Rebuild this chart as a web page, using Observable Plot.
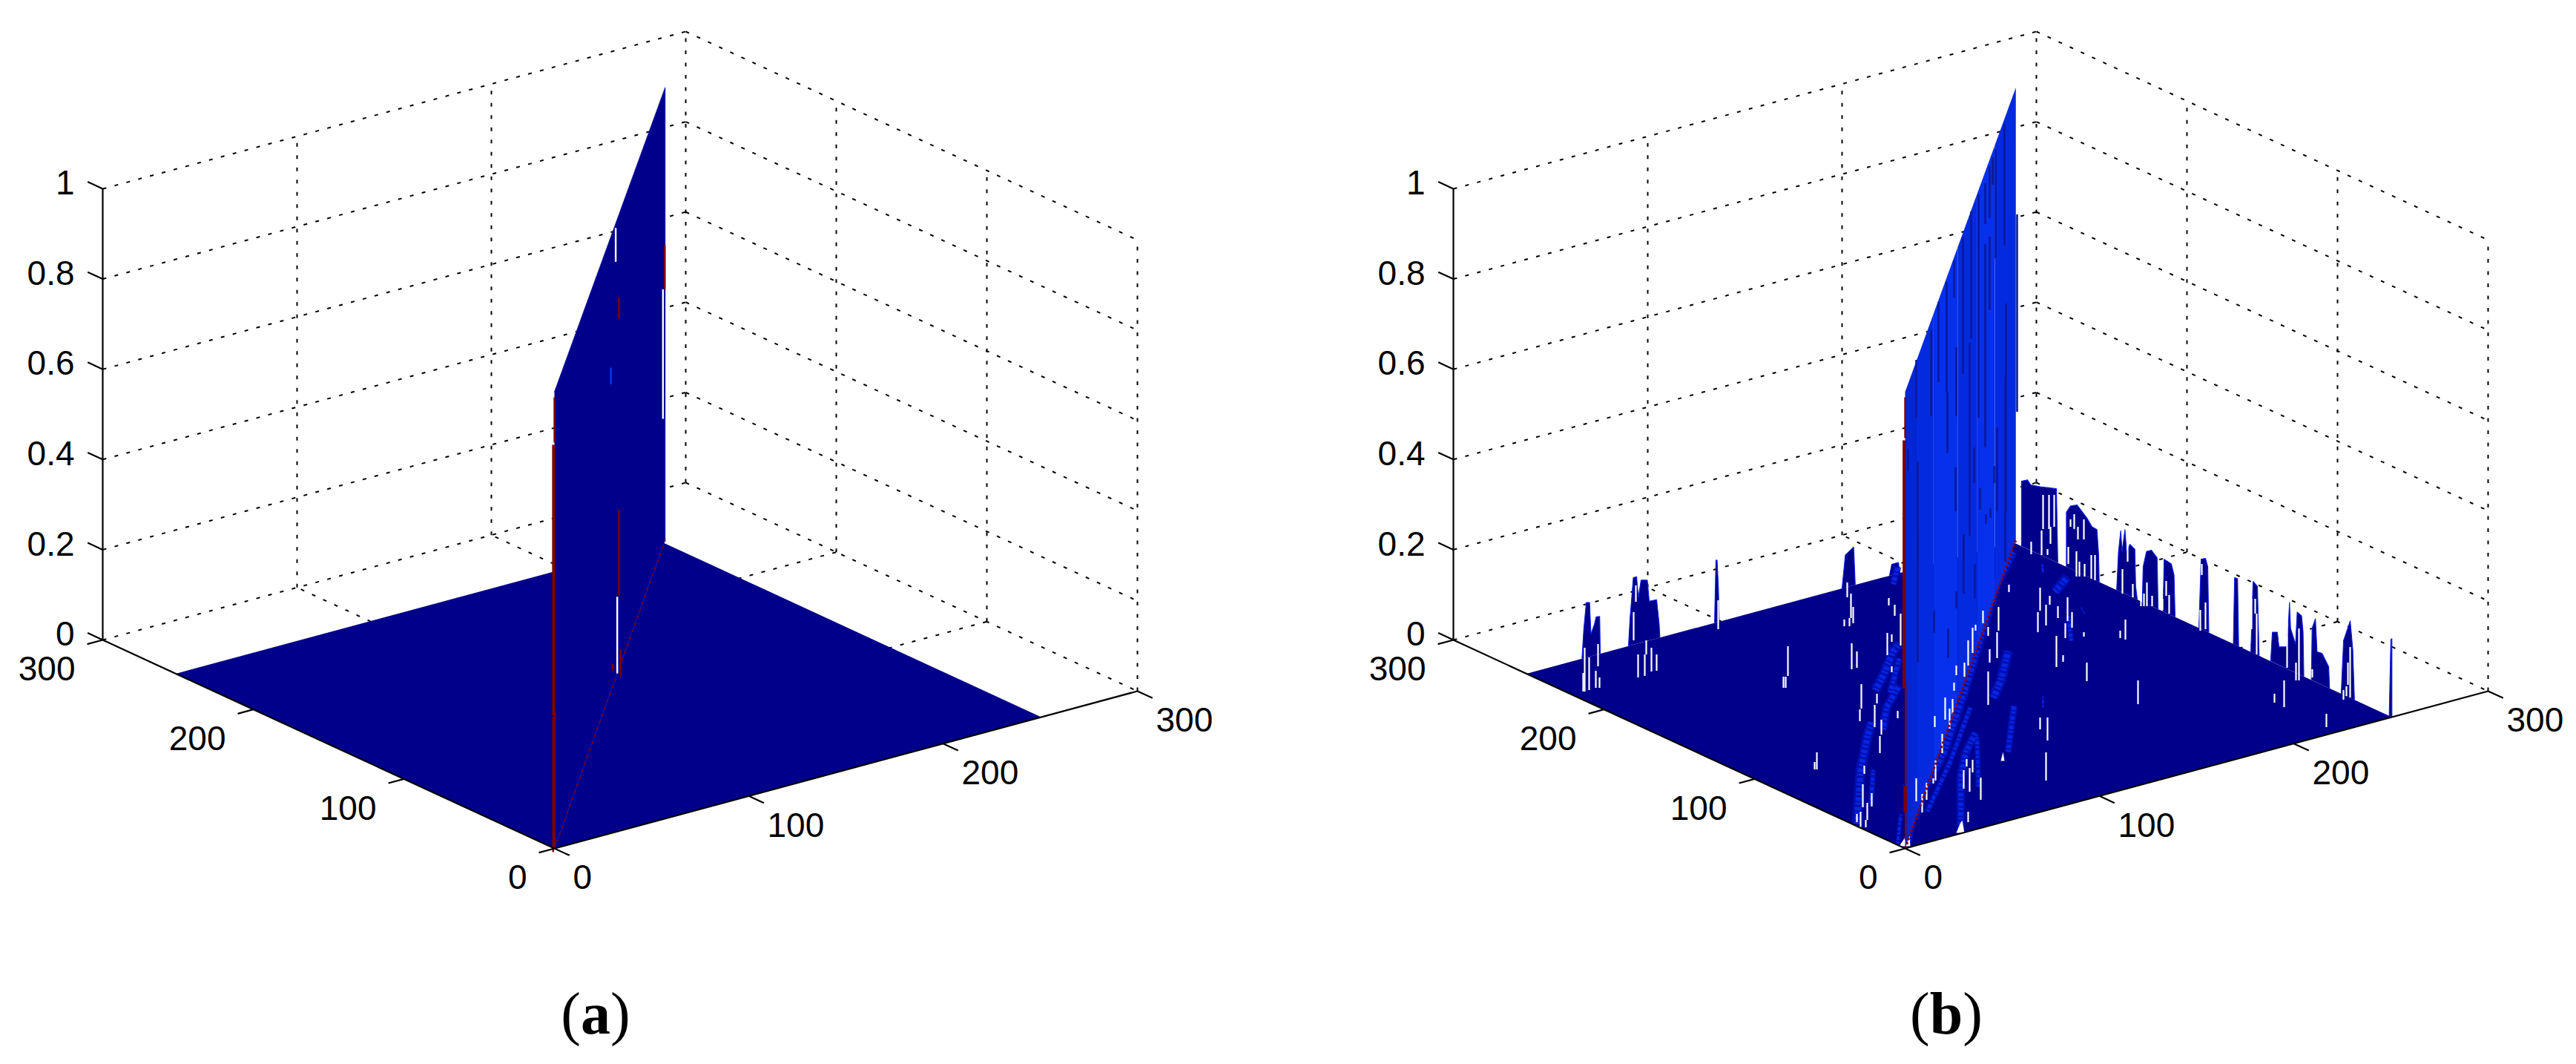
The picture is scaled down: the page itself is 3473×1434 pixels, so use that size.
<!DOCTYPE html>
<html>
<head>
<meta charset="utf-8">
<script src="https://cdn.jsdelivr.net/npm/d3@7"></script>
<script src="https://cdn.jsdelivr.net/npm/@observablehq/plot@0.6"></script>
<style>
html,body{margin:0;padding:0;background:#fff;width:3473px;height:1434px;overflow:hidden}
#panels{display:flex;width:3473px;height:1300px}
#panels svg{display:block;flex:none;max-width:none}
#caps{position:relative;height:134px;width:3473px;font-family:"Liberation Serif",serif;font-size:80px;color:#000}
#caps span{position:absolute;top:20px;line-height:92px;transform:translateX(-50%)}
#caps b{font-weight:700}
</style>
</head>
<body>
<div id="panels"></div>
<div id="caps"></div>
<script>
// ---------- axis values ----------
const planeTicks = [0, 100, 200, 300];
const planeGrid = [100, 200];
const zTicks = [0, 0.2, 0.4, 0.6, 0.8, 1];
const zTickLabels = ["0", "0.2", "0.4", "0.6", "0.8", "1"];
const captions = ["a", "b"];

// ---------- surface extent ----------
const surfaceX = 250.5, surfaceY = 251.5, ridgeEnd = 253;
const ridgeTopNear = 1.012, ridgeTopFar = 1.003;

// ---------- (a) marks on the ridge wall: [t along diagonal, z from, z to] ----------
const wallRedThickA = [[-2, 0.30, 0.90]];
const wallRedThinA = [[0, 0.90, 1.0], [-3, 0, 0.30], [1, 0, 0.30], [252, 0.559, 0.656], [147.5, 0.776, 0.823],
  [147.5, 0.162, 0.352], [151, -0.028, 0.033], [133, 0.035, 0.05]];
const wallWhiteA = [[140, 0.922, 0.997], [248, 0.282, 0.569], [143.5, 0, 0.17]];
const wallBlueA = [[129, 0.68, 0.717]];

// ---------- (b) far-edge ridges, Y = surfaceY: groups of [X, z] ----------
const spikesAlongX = [
  [[28.6,0],[29.5,.064],[30.8,.122],[32.5,.12],[33.2,.049],[35.1,.07],[35.8,.084],[37.7,.083],[38,0]],
  [[52.5,0],[53.3,.06],[55,.149],[56.7,.149],[57.6,.102],[59,.139],[62.2,.135],[63.2,.087],[67,.086],[68.3,.031],[68.7,0]],
  [[96.8,0],[97.5,.138],[98.1,.138],[98.8,.075],[99.2,0]],
  [[162.4,0],[164.1,.072],[168.4,.085],[169.2,0]],
  [[186.8,0],[188,.024],[191.4,.024],[192.2,0]]
];
// ---------- (b) far-edge ridges, X = surfaceX: groups of [Y, z] ----------
const spikesAlongY = [
  [[246,0],[246,.144],[242.1,.153],[239.9,.145],[233.3,.151],[222.8,.163],[221.9,0]],
  [[216.2,0],[216.2,.121],[213.5,.139],[209.1,.148],[202.5,.129],[199.2,.115],[195.9,.114],[194.8,.061],[194.4,0]],
  [[182.8,0],[181.6,.087],[180.1,.136],[179.2,.091],[177.3,.143],[176.2,.095],[174,.115],[170.7,.109],[170.2,.028],[169.1,0]],
  [[165.8,0],[165.2,.079],[163,.116],[159.7,.124],[155.9,.113],[155.3,0]],
  [[152,0],[151.3,.117],[146.5,.114],[144.7,.092],[144,0]],
  [[128.2,0],[126.7,.155],[123.8,.161],[122.3,.145],[121.6,0]],
  [[105.3,0],[104.5,.148],[102.5,.149],[101.8,0]],
  [[93.7,0],[92.2,.159],[89.3,.152],[88.2,0]],
  [[80.5,0],[79.4,.066],[76.1,.071],[75,.04],[69.5,.049],[68.9,.091],[68,.15],[67.3,.093],[64,.063],[62.9,.136],[60,.132],[59,.098],[58.5,0]],
  [[53.5,0],[53,.115],[50.8,.14],[49.7,.068],[46.4,.07],[42,.047],[41.4,0]],
  [[33.7,0],[32.1,.12],[27.7,.171],[26,.11],[24.9,0]],
  [[1.8,0],[1.4,.063],[.7,.171],[0,.174],[0,0]]
];

// ---------- (b) missing cells, read in the axes' view plane: [u, v low, v high] ----------
const whiteSlitsB = [
[-72,241,276],[-65,243,265],[-82,299,308],[-75,299,310],[-70,303,325],[-73,310,343],[-78,338,358],
[-22,327,337],[-14,313,328],[-6,273,316],[-24,260,290],[-18,278,288],[-18,237,245],[-59,188,221],[-61,171,187],
[-38,195,208],[-41,163,193],[-10,175,185],[-32,153,173],[-34,128,151],[-55,100,111],[-57,55,86],[-45,56,74],
[-51,38,61],[-65,35,46],[-60,28,49],[-53,28,38],
[105,303,320],[126,293,325],[112,286,298],[95,293,301],[91,263,297],[85,246,280],[124,256,291],[114,250,268],
[69,233,246],[80,231,250],[112,193,238],[66,212,223],[54,173,203],[64,181,201],[60,161,188],[40,163,178],
[50,128,154],[41,91,118],[29,65,88],[23,48,73],[15,63,94],[38,87,94],
[140,345,355],[182,320,351],[179,291,318],[190,300,328],[195,328,340],[206,310,326],[219,306,338],[225,297,318],
[216,283,303],[204,244,286],[213,251,260],[241,285,291],[245,225,250],[297,281,308],[290,283,293],[314,194,226],
[182,160,176],[192,145,176],[190,91,129],[83,110,120],[91,102,119],[79,80,105],[87,76,108],[102,65,95],[85,35,49],
[511,190,226],[498,196,208],[568,163,181],[-158,232,272],[-164,216,231],[-161,216,231],[-119,106,129],[-122,106,116],
[-432,211,270],[-426,213,257],[-414,245,275],[-417,216,239],[-412,216,230],[-434,211,236],
[-366,280,318],[-360,230,261],[-351,232,261],[-342,238,270],[-335,239,261],[-349,261,280],[-363,332,354],[-252,295,334],
[186,430,476],[194,430,476],[201,433,476],[184,395,428],[196,410,433],[192,395,403],[170,396,413],[223,433,443],
[228,430,450],[233,416,433],[241,416,443],[220,383,406],[231,366,400],[235,366,386],[242,366,383],[251,363,395],
[256,361,395],[300,386,410],[293,343,376],[307,338,356],[318,326,343],[322,326,343],[326,326,358],[333,326,340],
[347,321,336],[352,340,360],[356,316,341],[400,368,383],[398,293,321],[405,295,331],[440,280,291],[467,295,336],
[472,316,336],[474,261,316],[515,243,303],[531,226,296],[527,226,250],[549,230,241],[591,200,213],[595,205,218],
[600,203,271],[597,220,250]
];
// ---------- (b) darker columns on the wall: [u, v low, v high] ----------
const darkStripesB = [
[134,812,976],[122,795,942],[118,894,931],[114,849,919],[114,725,824],[108,841,896],[108,540,814],[136,454,734],
[135,386,635],[124,454,567],[99,580,881],[89,687,858],[87,420,681],[78,639,824],[69,582,675],[66,742,793],
[56,614,763],[57,532,614],[45,628,736],[35,582,698],[15,580,658],[17,386,521],[4,508,538],[151,588,854],
[93,492,540],[68,454,513],[101,456,485],[120,492,515],[115,445,458],[109,437,450],[79,386,422],
[17,250,423],[39,290,320],[58,256,296],[69,323,346],[79,343,423],[94,336,383]
];
// ---------- (b) brighter ridges on the floor: polylines in [u, v], with a weight ----------
const brightRidgesB = [
  {w:14, pts:[[-65,33],[-60,106],[-51,150],[-45,170]]},
  {w:8,  pts:[[-46,60],[-43,106]]},
  {w:14, pts:[[-40,213],[-28,236],[-16,266],[-8,276]]},
  {w:12, pts:[[-30,160],[-25,190],[-8,220]]},
  {w:10, pts:[[-20,210],[-8,256]]},
  {w:10, pts:[[-16,356],[-10,380]]},
  {w:6,  pts:[[-10,6],[-6,46]]},
  {w:14, pts:[[12,40],[25,80],[52,130],[79,210],[99,276],[122,353],[145,400]]},
  {w:8,  pts:[[30,50],[60,115],[88,190]]},
  {w:10, pts:[[5,10],[12,56]]},
  {w:12, pts:[[75,26],[75,96],[82,130],[95,156]]},
  {w:8,  pts:[[99,83],[97,150]]},
  {w:14, pts:[[119,203],[129,226],[139,266]]},
  {w:10, pts:[[139,130],[142,156],[147,193]]},
  {w:14, pts:[[202,346],[219,366]]},
  {w:8,  pts:[[224,280],[220,313]]},
  {w:2,  pts:[[242,316],[237,325]]},
  {w:4,  pts:[[185,383],[186,371]]},
  {w:3,  pts:[[186,190],[186,205]]}
];
// ---------- (b) holes in the floor, [u, v] outlines ----------
const holesB = [
  [[-8,3],[7,3],[5,36],[0,15]],
  [[69,21],[80,21],[77,38],[74,33]],
  [[129,118],[134,118],[132,130]]
];
// ---------- (b) marks on the wall: [t, z from, z to] ----------
const wallRedThickB = [[-2, .36, .91], [0, .08, .14]];
const wallRedThinB = [[0, .91, 1.0], [1, .14, .36], [1, .016, .08]];
// wall column shades: [t from, t to, shade]
const wallBandsB = [[0,28,0],[28,65,1],[65,120,2],[120,165,1],[165,205,2],[205,253,1]];

// ---------- view and style ----------
const DARK = "#00008b", RED = "#800000", WALL = ["#0226d4", "#042ae0", "#0630ec"];
const INK = "#000", H = 1300;
// oblique view of the box: plane units → view plane, where u grows right and v grows up
const view = (X, Y, Z = 0) => ({u: 2.62 * X - 2.03 * Y, v: 0.7067 * X + 0.9367 * Y + 608 * Z});
const seg = (a, b) => { const p = view(...a), q = view(...b); return {x1: p.u, y1: p.v, x2: q.u, y2: q.v}; };
const pts3 = a => a.map(p => view(...p));
const poly = (points, fill, opt = {}) => Plot.line(points, {x: "u", y: "v", fill, stroke: "none", ...opt});
const wallRule = (rows, stroke, strokeWidth) => Plot.link(rows.map(([t, a, b]) => seg([t, t, a], [t, t, b])),
  {x1: "x1", y1: "y1", x2: "x2", y2: "y2", stroke, strokeWidth});
const topAt = t => ridgeTopNear + (ridgeTopFar - ridgeTopNear) * t / ridgeEnd;

function frame() {
  const top = planeTicks[planeTicks.length - 1];
  const grid = [];
  for (const z of zTicks) {
    grid.push(seg([0, top, z], [top, top, z]));
    grid.push(seg([top, top, z], [top, 0, z]));
  }
  for (const g of planeGrid) {
    grid.push(seg([g, top, 0], [g, top, 1]));
    grid.push(seg([top, g, 0], [top, g, 1]));
    grid.push(seg([g, 0, 0], [g, top, 0]));
    grid.push(seg([0, g, 0], [top, g, 0]));
  }
  grid.push(seg([top, top, 0], [top, top, 1]));
  grid.push(seg([top, 0, 0], [top, 0, 1]));
  return grid;
}
function axes() {
  const top = planeTicks[planeTicks.length - 1];
  const lines = [seg([0, top, 0], [0, top, 1]), seg([0, top, 0], [0, 0, 0]), seg([0, 0, 0], [top, 0, 0])];
  for (const z of zTicks) lines.push(seg([0, top, z], [0, top + 10, z]));
  for (const t of planeTicks) {
    lines.push(seg([0, t, 0], [-8, t, 0]));
    lines.push(seg([t, 0, 0], [t, -10, 0]));
  }
  return lines;
}
function labels() {
  const top = planeTicks[planeTicks.length - 1];
  const common = {x: "u", y: "v", text: "s", fontSize: 46, fill: INK};
  return [
    Plot.text(zTicks.map((z, i) => ({...view(0, top, z), s: zTickLabels[i]})), {...common, textAnchor: "end", dx: -38, dy: -7}),
    Plot.text(planeTicks.map(t => ({...view(0, t, 0), s: String(t)})), {...common, textAnchor: "end", dx: -37, dy: 40}),
    Plot.text(planeTicks.map(t => ({...view(t, 0, 0), s: String(t)})), {...common, textAnchor: "start", dx: 25, dy: 40})
  ];
}

const floorOutline = pts3([[0,0,0],[surfaceX,0,0],[surfaceX,surfaceY,0],[0,surfaceY,0]]);
const wallOutline = pts3([[0,0,0],[ridgeEnd,ridgeEnd,0],[ridgeEnd,ridgeEnd,ridgeTopFar],[0,0,ridgeTopNear]]);
const dotted = {strokeDasharray: "5 11.5", strokeWidth: 2, stroke: INK, strokeLinecap: "butt"};
const link = {x1: "x1", y1: "y1", x2: "x2", y2: "y2"};

function panel(width, marks) {
  return Plot.plot({
    width, height: H, margin: 0,
    style: {fontFamily: '"Liberation Sans", Arial, sans-serif', background: "#fff", color: INK},
    x: {axis: null, domain: [-747, width - 747], range: [0, width]},
    y: {axis: null, domain: [1143 - H, 1143], range: [H, 0]},
    marks
  });
}

const common0 = () => [Plot.link(frame(), {...link, ...dotted})];
const commonEnd = () => [Plot.link(axes(), {...link, stroke: INK, strokeWidth: 2.2}), ...labels()];
const diag = seg([0,0,0],[ridgeEnd,ridgeEnd,0]);

const marksA = [
  ...common0(),
  poly(floorOutline, DARK),
  poly(wallOutline, DARK, {stroke: "#1a1aa8", strokeWidth: 1}),
  Plot.link([diag], {...link, stroke: RED, strokeWidth: 2.2, strokeDasharray: "3 7", strokeLinecap: "butt"}),
  wallRule(wallRedThickA, RED, 4),
  wallRule(wallRedThinA, RED, 2.4),
  wallRule(wallWhiteA, "#fff", 2.4),
  wallRule(wallBlueA, "#0030e0", 3),
  ...commonEnd()
];

const spikeRows = [
  ...spikesAlongX.map((g, i) => g.map(([X, z]) => ({...view(X, surfaceY, z), id: "x" + i}))),
  ...spikesAlongY.map((g, i) => g.map(([Y, z]) => ({...view(surfaceX, Y, z), id: "y" + i})))
].flat();
const ridgeRows = brightRidgesB.flatMap((r, i) => r.pts.map(([u, v]) => ({u, v, id: i, w: r.w})));
const holeRows = holesB.flatMap((h, i) => h.map(([u, v]) => ({u, v, id: i})));
const bandPolys = wallBandsB.map(([a, b, s]) => poly(pts3([[a,a,0],[b,b,0],[b,b,topAt(b)],[a,a,topAt(a)]]), WALL[s]));
const ridgeWeights = [...new Set(brightRidgesB.map(r => r.w))];

const marksB = [
  ...common0(),
  Plot.line(spikeRows, {x: "u", y: "v", z: "id", fill: DARK, stroke: "#0a1ee6", strokeWidth: 1.1,
    strokeLinejoin: "miter", strokeLinecap: "butt"}),
  poly(floorOutline, DARK),
  ...ridgeWeights.map(w =>
    Plot.line(ridgeRows.filter(d => d.w === w), {x: "u", y: "v", z: "id", stroke: "#0010b8", strokeWidth: w,
      strokeLinecap: "butt", strokeOpacity: 0.75})),
  ...ridgeWeights.map(w =>
    Plot.line(ridgeRows.filter(d => d.w === w), {x: "u", y: "v", z: "id", stroke: "#0628e8", strokeWidth: w * 0.6,
      strokeDasharray: "3 2 5 3", strokeLinecap: "butt", strokeOpacity: 0.9})),
  Plot.line(holeRows, {x: "u", y: "v", z: "id", fill: "#fff", stroke: "none"}),
  ...bandPolys,
  Plot.ruleX(darkStripesB, {x: d => d[0], y1: d => d[1], y2: d => d[2], stroke: "#0a1a9a", strokeWidth: 2.6}),
  Plot.ruleX(whiteSlitsB, {x: d => d[0], y1: d => d[1], y2: d => d[2], stroke: "#fff", strokeWidth: 2.2}),
  Plot.link([diag], {...link, stroke: "#8b0000", strokeWidth: 3.4, strokeDasharray: "3 3", strokeLinecap: "butt"}),
  wallRule(wallRedThickB, RED, 4.5),
  wallRule(wallRedThinB, RED, 2.4),
  ...commonEnd()
];

const host = document.getElementById("panels");
host.appendChild(panel(1821, marksA));
host.appendChild(panel(1652, marksB));

const caps = document.getElementById("caps");
[803, 2624].forEach((left, i) => {
  const s = document.createElement("span");
  s.style.left = left + "px";
  s.innerHTML = "(<b>" + captions[i] + "</b>)";
  caps.appendChild(s);
});
</script>
</body>
</html>
